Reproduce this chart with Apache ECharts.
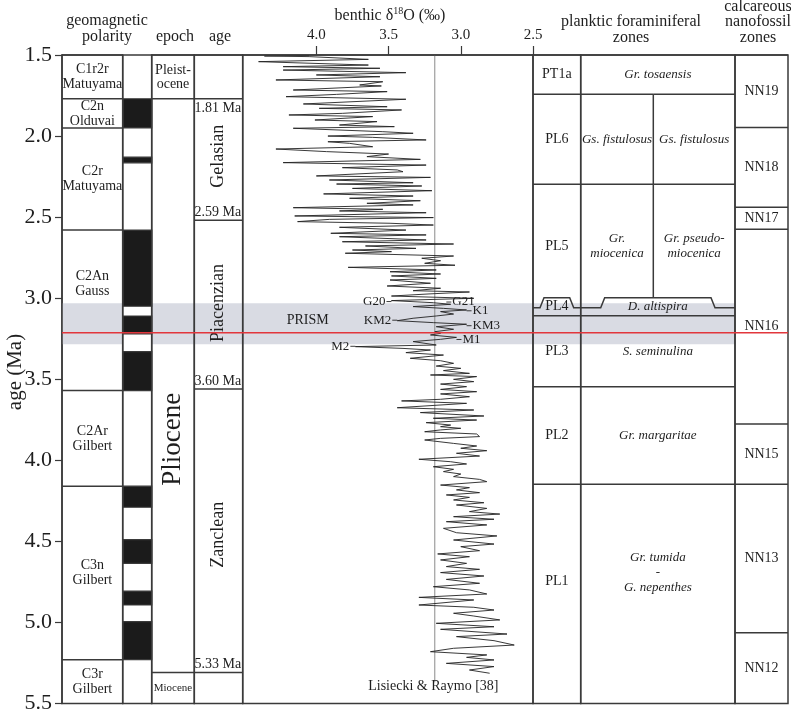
<!DOCTYPE html>
<html>
<head>
<meta charset="utf-8">
<script src="https://cdn.jsdelivr.net/npm/echarts@6/dist/echarts.min.js"></script>
<style>
  html, body { margin: 0; background: #fff; }
  #chart { width: 791px; height: 713px; }
</style>
</head>
<body>
<div id="chart"></div>
<script>
// --- data (ages in Ma) ---
const AGE_MIN = 1.5
const AGE_MAX = 5.5
const d18oTicks = [2.5, 3.0, 3.5, 4.0]

// [label, top, bottom, labelAge?]
const chrons = [
  ['C1r2r\nMatuyama', 1.5, 1.77],
  ['C2n\nOlduvai', 1.77, 1.95],
  ['C2r\nMatuyama', 1.95, 2.58],
  ['C2An\nGauss', 2.58, 3.57, 2.91],
  ['C2Ar\nGilbert', 3.57, 4.16],
  ['C3n\nGilbert', 4.16, 5.23],
  ['C3r\nGilbert', 5.23, 5.5]
]
// normal polarity (black) intervals
const normalPolarity = [
  [1.77, 1.95], [2.13, 2.165], [2.58, 3.05], [3.11, 3.22], [3.33, 3.57],
  [4.16, 4.29], [4.49, 4.636], [4.807, 4.893], [4.996, 5.23]
]
const epochs = [
  ['Pleist-\nocene', 1.5, 1.77],
  ['Pliocene', 1.77, 5.31, 3.87],
  ['Miocene', 5.31, 5.5]
]
const stages = [
  ['', 1.5, 1.77],
  ['Gelasian', 1.77, 2.52, 2.125],
  ['Piacenzian', 2.52, 3.56, 3.03],
  ['Zanclean', 3.56, 5.31, 4.46],
  ['', 5.31, 5.5]
]
const stageBoundaryLabels = [
  ['1.81 Ma', 1.77, 'below'],
  ['2.59 Ma', 2.52, 'above'],
  ['3.60 Ma', 3.56, 'above'],
  ['5.33 Ma', 5.31, 'above']
]
const plankticZones = [
  ['PT1a', 1.5, 1.742],
  ['PL6', 1.742, 2.298],
  ['PL5', 2.298, 3.059],
  ['PL4', 3.059, 3.108],
  ['PL3', 3.108, 3.546],
  ['PL2', 3.546, 4.148],
  ['PL1', 4.148, 5.5, 4.75]
]
const PL4_CREST = 2.997
const plankticSpecies = [
  ['Gr. tosaensis', 1.5, 1.742, 'both'],
  ['Gs. fistulosus', 1.742, 2.298, 'left'],
  ['Gs. fistulosus', 1.742, 2.298, 'right'],
  ['Gr.\nmiocenica', 2.298, 3.059, 'left'],
  ['Gr. pseudo-\nmiocenica', 2.298, 3.059, 'right'],
  ['D. altispira', 3.059, 3.108, 'both'],
  ['S. seminulina', 3.108, 3.546, 'both'],
  ['Gr. margaritae', 3.546, 4.148, 'both'],
  ['Gr. tumida\n-\nG. nepenthes', 4.148, 5.5, 'both', 4.69]
]
const nannoZones = [
  ['NN19', 1.5, 1.948],
  ['NN18', 1.948, 2.44],
  ['NN17', 2.44, 2.575],
  ['NN16', 2.575, 3.776],
  ['NN15', 3.776, 4.148],
  ['NN13', 4.148, 5.064],
  ['NN12', 5.064, 5.5]
]
const prismBand = [3.032, 3.285]
const prismSlice = 3.213
const refD18O = 3.18
const refLineEnd = 5.37

// [label, age, δ18O at tip, side of label]
const events = [
  ['G20', 3.021, 3.48, 'left'],
  ['G21', 3.024, 3.10, 'right'],
  ['K1', 3.078, 2.96, 'right'],
  ['KM2', 3.136, 3.44, 'left'],
  ['KM3', 3.170, 2.96, 'right'],
  ['M1', 3.255, 3.03, 'right'],
  ['M2', 3.297, 3.73, 'left']
]
const notes = [
  ['PRISM', 4.06, 3.135],
  ['Lisiecki & Raymo [38]', 3.19, 5.397]
]

// benthic stack, [age, δ18O]
const benthicRecord = [
  [1.503, 4.05], [1.506, 4.36], [1.510, 4.05], [1.527, 3.64], [1.541, 4.40], [1.562, 3.64], [1.572, 4.23], [1.582, 3.56], [1.593, 4.23], [1.609, 3.38],
  [1.623, 4.00], [1.634, 3.56], [1.654, 4.28], [1.665, 3.54], [1.685, 3.70], [1.691, 3.55], [1.716, 4.16], [1.726, 3.51], [1.743, 3.86], [1.757, 4.21],
  [1.773, 3.38], [1.802, 4.09], [1.819, 3.51], [1.829, 3.98], [1.839, 3.41], [1.860, 3.82], [1.870, 4.19], [1.880, 3.61], [1.901, 4.01], [1.911, 3.58],
  [1.932, 3.84], [1.942, 3.46], [1.952, 4.16], [1.973, 3.54], [1.983, 3.33], [2.000, 3.92], [2.008, 3.61], [2.024, 3.24], [2.035, 3.92], [2.045, 3.77],
  [2.066, 3.61], [2.080, 4.28], [2.096, 3.93], [2.111, 3.50], [2.127, 3.65], [2.144, 3.28], [2.164, 4.23], [2.179, 3.24], [2.195, 3.82], [2.209, 3.44],
  [2.220, 3.40], [2.246, 4.00], [2.255, 3.21], [2.271, 3.91], [2.288, 3.33], [2.296, 3.86], [2.308, 3.27], [2.323, 3.75], [2.337, 3.20], [2.357, 3.95],
  [2.370, 3.33], [2.384, 3.77], [2.399, 3.28], [2.415, 3.65], [2.425, 3.33], [2.442, 4.16], [2.452, 3.54], [2.462, 3.84], [2.473, 3.24], [2.493, 4.15],
  [2.503, 3.19], [2.514, 3.91], [2.528, 4.13], [2.538, 3.49], [2.549, 3.19], [2.563, 3.84], [2.580, 3.38], [2.600, 3.90], [2.610, 3.24], [2.621, 3.84],
  [2.641, 3.24], [2.652, 3.82], [2.666, 3.05], [2.678, 3.66], [2.693, 3.31], [2.703, 3.75], [2.713, 3.48], [2.723, 3.80], [2.740, 3.05], [2.754, 3.27],
  [2.769, 3.14], [2.785, 3.25], [2.797, 3.04], [2.810, 3.78], [2.826, 3.17], [2.837, 3.49], [2.851, 3.14], [2.863, 3.48], [2.878, 3.17], [2.888, 3.49],
  [2.908, 3.21], [2.925, 3.51], [2.939, 3.14], [2.954, 3.33], [2.962, 2.94], [2.974, 3.22], [2.987, 3.48], [3.001, 2.91], [3.015, 3.48], [3.028, 3.19],
  [3.038, 3.07], [3.052, 3.33], [3.063, 3.12], [3.073, 2.96], [3.083, 3.14], [3.098, 3.05], [3.110, 3.17], [3.124, 3.33], [3.139, 3.44], [3.151, 3.19],
  [3.161, 2.96], [3.176, 3.17], [3.192, 3.05], [3.207, 3.18], [3.217, 3.14], [3.227, 3.21], [3.242, 3.03], [3.254, 3.14], [3.268, 3.33], [3.289, 3.17],
  [3.299, 3.73], [3.310, 3.40], [3.320, 3.21], [3.336, 3.38], [3.351, 3.12], [3.371, 3.35], [3.386, 3.14], [3.402, 3.05], [3.419, 3.17], [3.433, 3.00],
  [3.447, 3.12], [3.464, 2.94], [3.474, 3.21], [3.484, 2.89], [3.501, 3.05], [3.515, 2.91], [3.530, 3.14], [3.546, 2.96], [3.563, 3.14], [3.577, 2.89],
  [3.591, 3.14], [3.608, 2.94], [3.624, 3.14], [3.634, 3.41], [3.649, 2.96], [3.676, 3.44], [3.690, 2.91], [3.706, 3.28], [3.727, 2.84], [3.741, 3.19],
  [3.752, 2.89], [3.768, 3.24], [3.783, 3.07], [3.793, 3.14], [3.803, 3.00], [3.813, 3.14], [3.824, 3.25], [3.838, 2.89], [3.854, 2.87], [3.865, 3.14],
  [3.875, 3.25], [3.896, 3.05], [3.912, 2.89], [3.926, 3.00], [3.941, 2.82], [3.957, 3.03], [3.974, 2.87], [3.994, 3.29], [4.009, 3.07], [4.023, 2.96],
  [4.040, 3.19], [4.056, 3.05], [4.070, 3.12], [4.085, 3.00], [4.101, 3.05], [4.118, 2.87], [4.132, 2.82], [4.153, 3.14], [4.169, 2.94], [4.183, 3.03],
  [4.200, 2.87], [4.214, 3.10], [4.229, 2.94], [4.245, 3.05], [4.262, 2.84], [4.276, 3.03], [4.297, 2.82], [4.317, 2.94], [4.332, 2.73], [4.348, 3.05],
  [4.364, 2.77], [4.379, 3.10], [4.399, 2.82], [4.420, 3.12], [4.447, 3.03], [4.467, 2.75], [4.492, 3.05], [4.517, 2.77], [4.533, 3.00], [4.558, 2.87],
  [4.578, 3.16], [4.595, 2.94], [4.615, 3.14], [4.636, 2.96], [4.656, 3.10], [4.673, 2.87], [4.693, 3.14], [4.714, 2.84], [4.735, 3.10], [4.759, 2.87],
  [4.780, 3.19], [4.800, 2.94], [4.825, 2.82], [4.846, 3.29], [4.862, 2.91], [4.893, 3.29], [4.907, 2.91], [4.924, 2.77], [4.944, 3.05], [4.961, 2.91],
  [4.985, 2.73], [5.006, 3.17], [5.027, 2.77], [5.043, 3.14], [5.072, 2.68], [5.088, 3.03], [5.113, 2.77], [5.140, 2.63], [5.160, 3.05], [5.181, 3.21],
  [5.201, 2.82], [5.216, 2.96], [5.232, 2.77], [5.253, 3.10], [5.273, 2.77], [5.294, 2.94], [5.314, 2.80]
]

// --- layout ---
const COL = {
  chron: [62, 122.7],
  polarity: [122.7, 151.7],
  epoch: [151.7, 194.3],
  stage: [194.3, 242.7],
  benthic: [242.7, 533],
  zone: [533, 580.7],
  species: [580.7, 735],
  nanno: [735, 788]
}
const SPLIT_X = 653.3
const FONT = 'Liberation Serif'
const INK = '#3a3a3a'
const TEXT = '#1e1e1e'

const yAt = (api, age) => api.coord([0.5, age])[1]

function hLine (x1, x2, y, w = 1.5) {
  return { type: 'line', shape: { x1, y1: y, x2, y2: y }, style: { stroke: INK, lineWidth: w } }
}

function label (x, y, text, o = {}) {
  return {
    type: 'text',
    x,
    y,
    rotation: o.rotate ? Math.PI / 2 : 0,
    style: {
      text,
      fill: TEXT,
      fontFamily: FONT,
      fontSize: o.size || 14,
      fontStyle: o.italic ? 'italic' : 'normal',
      align: o.align || 'center',
      verticalAlign: 'middle',
      lineHeight: o.lh || 15
    }
  }
}

// flat-topped raised boundary drawn round PL4
function crest (col, inset, yBase, yTop) {
  const s = 4
  return {
    type: 'polyline',
    shape: {
      points: [
        [col[0], yBase], [col[0] + inset, yBase], [col[0] + inset + s, yTop],
        [col[1] - inset - s, yTop], [col[1] - inset, yBase], [col[1], yBase]
      ]
    },
    style: { stroke: INK, lineWidth: 1.5, fill: 'none' }
  }
}

function boxSeries (rows, col, opts = {}) {
  return {
    type: 'custom',
    xAxisIndex: 1,
    yAxisIndex: 1,
    z: 5,
    silent: true,
    data: rows.map(r => [0.5, r[1], r[2]]),
    renderItem: (params, api) => {
      const r = rows[params.dataIndex]
      const yT = yAt(api, r[1])
      const yB = yAt(api, r[2])
      const yC = r[3] != null ? yAt(api, r[3]) : (yT + yB) / 2
      return {
        type: 'group',
        children: [hLine(col[0], col[1], yT), label((col[0] + col[1]) / 2, yC, r[0], opts)]
      }
    }
  }
}

const chart = echarts.init(document.getElementById('chart'), null, { renderer: 'canvas' })

const option = {
  animation: false,
  backgroundColor: '#fff',
  grid: [
    {
      left: COL.benthic[0],
      width: COL.benthic[1] - COL.benthic[0],
      top: 55,
      height: 648.4,
      containLabel: false,
      outerBoundsMode: 'none'
    },
    {
      left: COL.chron[0],
      width: COL.nanno[1] - COL.chron[0],
      top: 55,
      height: 648.4,
      containLabel: false,
      outerBoundsMode: 'none'
    }
  ],
  xAxis: [
    {
      gridIndex: 0,
      type: 'value',
      position: 'top',
      inverse: true,
      min: 2.5,
      max: 4.51,
      axisLine: { show: true, lineStyle: { color: INK, width: 1.5 } },
      axisTick: { show: true, inside: false, length: 9, customValues: d18oTicks, lineStyle: { color: INK, width: 1.2 } },
      axisLabel: {
        show: true,
        customValues: d18oTicks,
        margin: 12,
        fontFamily: FONT,
        fontSize: 15,
        color: TEXT,
        formatter: v => v.toFixed(1)
      },
      splitLine: { show: false }
    },
    { gridIndex: 1, type: 'value', min: 0, max: 1, show: false }
  ],
  yAxis: [
    { gridIndex: 0, type: 'value', inverse: true, min: AGE_MIN, max: AGE_MAX, show: false },
    {
      gridIndex: 1,
      type: 'value',
      inverse: true,
      min: AGE_MIN,
      max: AGE_MAX,
      interval: 0.5,
      axisLine: { show: true, lineStyle: { color: INK, width: 1.5 } },
      axisTick: { show: true, inside: false, length: 7, lineStyle: { color: INK, width: 1.2 } },
      axisLabel: { margin: 10, fontFamily: FONT, fontSize: 22, color: TEXT, formatter: v => v.toFixed(1) },
      splitLine: { show: false }
    }
  ],
  graphic: [
    { type: 'text', x: 15, y: 372, rotation: Math.PI / 2, style: { text: 'age (Ma)', fontFamily: FONT, fontSize: 21, fill: TEXT, align: 'center', verticalAlign: 'middle' } },
    { type: 'text', x: 107, y: 21, style: { text: 'geomagnetic', fontFamily: FONT, fontSize: 16, fill: TEXT, align: 'center', verticalAlign: 'middle' } },
    { type: 'text', x: 107, y: 37, style: { text: 'polarity', fontFamily: FONT, fontSize: 16, fill: TEXT, align: 'center', verticalAlign: 'middle' } },
    { type: 'text', x: 175, y: 37, style: { text: 'epoch', fontFamily: FONT, fontSize: 16, fill: TEXT, align: 'center', verticalAlign: 'middle' } },
    { type: 'text', x: 220, y: 37, style: { text: 'age', fontFamily: FONT, fontSize: 16, fill: TEXT, align: 'center', verticalAlign: 'middle' } },
    {
      type: 'text',
      x: 390,
      y: 16,
      style: {
        text: 'benthic δ{sup|18}O (‰)',
        fontFamily: FONT,
        fontSize: 16,
        fill: TEXT,
        align: 'center',
        verticalAlign: 'middle',
        lineHeight: 20,
        rich: { sup: { fontFamily: FONT, fontSize: 10, verticalAlign: 'top', lineHeight: 20 } }
      }
    },
    { type: 'text', x: 631, y: 22, style: { text: 'planktic foraminiferal', fontFamily: FONT, fontSize: 16, fill: TEXT, align: 'center', verticalAlign: 'middle' } },
    { type: 'text', x: 631, y: 38, style: { text: 'zones', fontFamily: FONT, fontSize: 16, fill: TEXT, align: 'center', verticalAlign: 'middle' } },
    { type: 'text', x: 758, y: 7, style: { text: 'calcareous', fontFamily: FONT, fontSize: 16, fill: TEXT, align: 'center', verticalAlign: 'middle' } },
    { type: 'text', x: 758, y: 22, style: { text: 'nanofossil', fontFamily: FONT, fontSize: 16, fill: TEXT, align: 'center', verticalAlign: 'middle' } },
    { type: 'text', x: 758, y: 38, style: { text: 'zones', fontFamily: FONT, fontSize: 16, fill: TEXT, align: 'center', verticalAlign: 'middle' } }
  ],
  series: [
    // PRISM grey band
    {
      type: 'custom',
      xAxisIndex: 1,
      yAxisIndex: 1,
      z: 1,
      silent: true,
      data: [[0.5, prismBand[0], prismBand[1]]],
      renderItem: (params, api) => {
        const y0 = yAt(api, prismBand[0])
        const y1 = yAt(api, prismBand[1])
        const fill = '#d9dbe3'
        return {
          type: 'group',
          children: [
            { type: 'rect', shape: { x: COL.chron[0], y: y0, width: COL.chron[1] - COL.chron[0], height: y1 - y0 }, style: { fill } },
            { type: 'rect', shape: { x: COL.epoch[0], y: y0, width: COL.species[1] - COL.epoch[0], height: y1 - y0 }, style: { fill } }
          ]
        }
      }
    },
    // normal polarity
    {
      type: 'custom',
      xAxisIndex: 1,
      yAxisIndex: 1,
      z: 3,
      silent: true,
      data: normalPolarity.map(p => [0.5, p[0], p[1]]),
      renderItem: (params, api) => {
        const p = normalPolarity[params.dataIndex]
        const y0 = yAt(api, p[0])
        const y1 = yAt(api, p[1])
        return {
          type: 'rect',
          shape: { x: COL.polarity[0], y: y0, width: COL.polarity[1] - COL.polarity[0], height: y1 - y0 },
          style: { fill: '#1b1b1b', stroke: INK, lineWidth: 1.2 }
        }
      }
    },
    // reference δ18O line
    {
      type: 'line',
      xAxisIndex: 0,
      yAxisIndex: 0,
      z: 3,
      silent: true,
      showSymbol: false,
      symbol: 'none',
      data: [[refD18O, AGE_MIN], [refD18O, refLineEnd]],
      lineStyle: { color: '#8a8a8a', width: 1 }
    },
    // benthic curve
    {
      type: 'line',
      xAxisIndex: 0,
      yAxisIndex: 0,
      z: 4,
      silent: true,
      showSymbol: false,
      symbol: 'none',
      data: benthicRecord.map(d => [d[1], d[0]]),
      lineStyle: { color: '#222', width: 0.9 }
    },
    // event labels
    {
      type: 'custom',
      xAxisIndex: 0,
      yAxisIndex: 0,
      z: 6,
      silent: true,
      data: events.map(e => [e[2], e[1]]),
      renderItem: (params, api) => {
        const e = events[params.dataIndex]
        const p = api.coord([e[2], e[1]])
        const dir = e[3] === 'left' ? -1 : 1
        return {
          type: 'group',
          children: [
            { type: 'line', shape: { x1: p[0], y1: p[1], x2: p[0] + dir * 5, y2: p[1] }, style: { stroke: '#262626', lineWidth: 0.9 } },
            label(p[0] + dir * 6, p[1], e[0], { size: 13, align: dir < 0 ? 'right' : 'left' })
          ]
        }
      }
    },
    {
      type: 'custom',
      xAxisIndex: 0,
      yAxisIndex: 0,
      z: 6,
      silent: true,
      data: notes.map(n => [n[1], n[2]]),
      renderItem: (params, api) => {
        const n = notes[params.dataIndex]
        const p = api.coord([n[1], n[2]])
        return label(p[0], p[1], n[0], { size: 14 })
      }
    },
    // columns
    boxSeries(chrons, COL.chron, { size: 14 }),
    boxSeries(epochs.slice(0, 1), COL.epoch, { size: 14, lh: 14 }),
    boxSeries(epochs.slice(1, 2), COL.epoch, { size: 27, rotate: true }),
    boxSeries(epochs.slice(2), COL.epoch, { size: 11 }),
    boxSeries(stages, COL.stage, { size: 18, rotate: true }),
    boxSeries(nannoZones, COL.nanno, { size: 14 }),
    {
      type: 'custom',
      xAxisIndex: 1,
      yAxisIndex: 1,
      z: 6,
      silent: true,
      data: stageBoundaryLabels.map(s => [0.5, s[1]]),
      renderItem: (params, api) => {
        const s = stageBoundaryLabels[params.dataIndex]
        const y = yAt(api, s[1]) + (s[2] === 'below' ? 10 : -8)
        return label(COL.stage[1] - 1.5, y, s[0], { size: 14, align: 'right' })
      }
    },
    // planktic zones
    {
      type: 'custom',
      xAxisIndex: 1,
      yAxisIndex: 1,
      z: 5,
      silent: true,
      data: plankticZones.map(r => [0.5, r[1], r[2]]),
      renderItem: (params, api) => {
        const r = plankticZones[params.dataIndex]
        const yT = yAt(api, r[1])
        const yB = yAt(api, r[2])
        let yC = r[3] != null ? yAt(api, r[3]) : (yT + yB) / 2
        const children = []
        if (r[0] === 'PL4') {
          const yTop = yAt(api, PL4_CREST)
          children.push(crest(COL.zone, 7, yT, yTop))
          yC = (yTop + yB) / 2
        } else {
          children.push(hLine(COL.zone[0], COL.zone[1], yT))
        }
        children.push(label((COL.zone[0] + COL.zone[1]) / 2, yC, r[0], { size: 14 }))
        return { type: 'group', children }
      }
    },
    {
      type: 'custom',
      xAxisIndex: 1,
      yAxisIndex: 1,
      z: 5,
      silent: true,
      data: plankticSpecies.map(r => [0.5, r[1], r[2]]),
      renderItem: (params, api) => {
        const r = plankticSpecies[params.dataIndex]
        const x0 = r[3] === 'right' ? SPLIT_X : COL.species[0]
        const x1 = r[3] === 'left' ? SPLIT_X : COL.species[1]
        const yT = yAt(api, r[1])
        const yB = yAt(api, r[2])
        let yC = r[4] != null ? yAt(api, r[4]) : (yT + yB) / 2
        const children = []
        if (r[0] === 'D. altispira') {
          const yTop = yAt(api, PL4_CREST)
          children.push(crest(COL.species, 20, yT, yTop))
          yC = (yTop + yB) / 2
        } else {
          children.push(hLine(x0, x1, yT))
        }
        if (r[3] === 'left') {
          const yEnd = yAt(api, Math.min(r[2], PL4_CREST))
          children.push({ type: 'line', shape: { x1: SPLIT_X, y1: yT, x2: SPLIT_X, y2: yEnd }, style: { stroke: INK, lineWidth: 1.5 } })
        }
        children.push(label((x0 + x1) / 2, yC, r[0], { size: 13, italic: true, lh: 15 }))
        return { type: 'group', children }
      }
    },
    // column frames
    {
      type: 'custom',
      xAxisIndex: 1,
      yAxisIndex: 1,
      z: 7,
      silent: true,
      data: [[0.5, AGE_MIN, AGE_MAX]],
      renderItem: (params, api) => {
        const y0 = yAt(api, AGE_MIN)
        const y1 = yAt(api, AGE_MAX)
        return {
          type: 'group',
          children: Object.values(COL).map(c => ({
            type: 'rect',
            shape: { x: c[0], y: y0, width: c[1] - c[0], height: y1 - y0 },
            style: { fill: 'none', stroke: INK, lineWidth: 1.5 }
          }))
        }
      }
    },
    // PRISM time slice
    {
      type: 'custom',
      xAxisIndex: 1,
      yAxisIndex: 1,
      z: 9,
      silent: true,
      data: [[0.5, prismSlice]],
      renderItem: (params, api) => {
        const y = yAt(api, prismSlice)
        return { type: 'line', shape: { x1: COL.chron[0], y1: y, x2: COL.nanno[1], y2: y }, style: { stroke: '#e2363c', lineWidth: 1.5 } }
      }
    }
  ]
}

chart.setOption(option)
</script>
</body>
</html>
